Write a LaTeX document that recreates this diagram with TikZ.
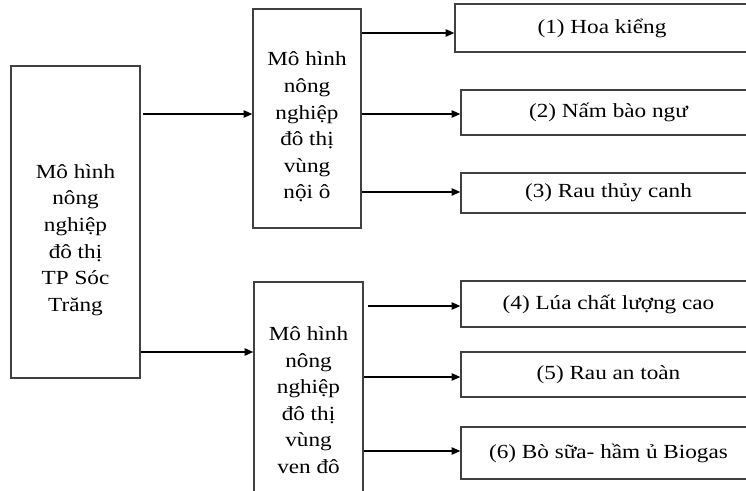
\documentclass[tikz,border=0pt]{standalone}
\usepackage{fontspec}
\setmainfont{Liberation Serif}[FakeStretch=1.16]
\usetikzlibrary{arrows.meta,fit}
\tikzset{
  box/.style={draw=black!75, line width=1pt, inner sep=0pt, rectangle},
  lbl/.style={align=center, inner sep=0pt, font=\fontsize{15}{19.9}\selectfont},
  arr/.style={draw=black, line width=1pt, -{Triangle[length=6.5pt,width=5.5pt]}}
}
\begin{document}
\begin{tikzpicture}[x=0.75pt, y=-0.75pt]
\useasboundingbox (0,0) rectangle (746,491);
\clip (0,0) rectangle (746,491);

% root box
\node[box, fit={(11,66) (140,378)}] (L) {};
\node[lbl] (Lt) at (75.5,240) {Mô hình\\nông\\nghiệp\\đô thị\\TP Sóc\\Trăng};

% inner-city branch
\node[box, fit={(253,9) (361,228)}] (M1) {};
\node[lbl] (M1t) at (307,127) {Mô hình\\nông\\nghiệp\\đô thị\\vùng\\nội ô};

% suburban branch
\node[box, fit={(254,282) (363,505)}] (M2) {};
\node[lbl] (M2t) at (308.5,400) {Mô hình\\nông\\nghiệp\\đô thị\\vùng\\ven đô};

% leaf boxes
\node[box, fit={(455,4) (749,52)}] (R1) {};
\node[lbl] (R1t) at (R1.center) {(1) Hoa kiểng};
\node[box, fit={(461,90) (756,135)}] (R2) {};
\node[lbl] (R2t) at (R2.center) {(2) Nấm bào ngư};
\node[box, fit={(461,173) (756,213)}] (R3) {};
\node[lbl] (R3t) at (R3.center) {(3) Rau thủy canh};
\node[box, fit={(461,281) (756,327)}] (R4) {};
\node[lbl] (R4t) at (R4.center) {(4) Lúa chất lượng cao};
\node[box, fit={(461,352) (756,397)}] (R5) {};
\node[lbl] (R5t) at (R5.center) {(5) Rau an toàn};
\node[box, fit={(461,427) (756,479)}] (R6) {};
\node[lbl] (R6t) at (R6.center) {(6) Bò sữa- hầm ủ Biogas};

% connectors
\draw[arr] ([xshift=1.5pt]L.east |- 0,114) -- (M1.west |- 0,114);
\draw[arr] (L.east |- 0,352) -- (M2.west |- 0,352);

\draw[arr] (M1.east |- 0,33) -- (R1.west |- 0,33);
\draw[arr] (M1.east |- 0,114) -- (R2.west |- 0,114);
\draw[arr] (M1.east |- 0,192) -- (R3.west |- 0,192);

\draw[arr] ([xshift=3.5pt]M2.east |- 0,306) -- (R4.west |- 0,306);
\draw[arr] (M2.east |- 0,377) -- (R5.west |- 0,377);
\draw[arr] (M2.east |- 0,451) -- (R6.west |- 0,451);
\end{tikzpicture}
\end{document}
